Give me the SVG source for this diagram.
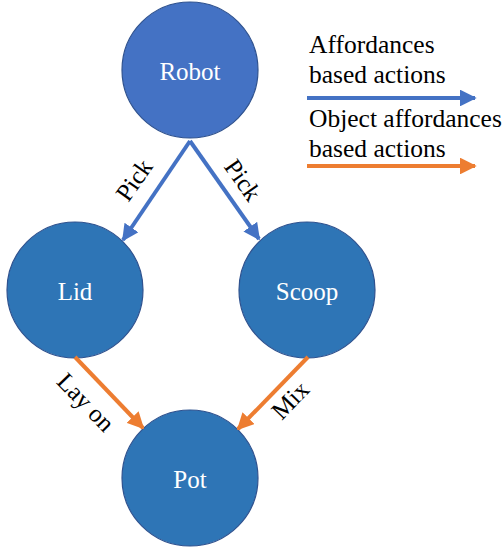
<svg xmlns="http://www.w3.org/2000/svg" width="504" height="550" viewBox="0 0 504 550">
  <style>
    .node circle { stroke: #2F528F; stroke-width: 1.2; }
    .robot circle { fill: #4472C4; }
    .obj circle { fill: #2E75B6; }
    .node text { font-family: "Liberation Serif", "Times New Roman", serif; font-size: 25px; fill: #FFFFFF; text-anchor: middle; dominant-baseline: central; }
    .lbl { font-family: "Liberation Serif", "Times New Roman", serif; font-size: 25px; fill: #000000; text-anchor: middle; dominant-baseline: central; }
    .legend { font-family: "Liberation Serif", "Times New Roman", serif; font-size: 25.5px; fill: #000000; }
    .blue { stroke: #4472C4; stroke-width: 4; fill: none; }
    .orange { stroke: #ED7D31; stroke-width: 4; fill: none; }
  </style>
  <defs>
    <marker id="headBlue" viewBox="0 0 10 10" refX="9" refY="5" markerWidth="4.2" markerHeight="4.2" orient="auto" markerUnits="strokeWidth">
      <path d="M0,0 L10,5 L0,10 z" fill="#4472C4"/>
    </marker>
    <marker id="headOrange" viewBox="0 0 10 10" refX="9" refY="5" markerWidth="4.2" markerHeight="4.2" orient="auto" markerUnits="strokeWidth">
      <path d="M0,0 L10,5 L0,10 z" fill="#ED7D31"/>
    </marker>
  </defs>

  <!-- nodes -->
  <g id="robot" class="node robot">
    <circle cx="190" cy="70" r="68"/>
    <text x="190" y="71">Robot</text>
  </g>
  <g id="lid" class="node obj">
    <circle cx="75" cy="290" r="68"/>
    <text x="75" y="291">Lid</text>
  </g>
  <g id="scoop" class="node obj">
    <circle cx="307" cy="290" r="68"/>
    <text x="307" y="291">Scoop</text>
  </g>
  <g id="pot" class="node obj">
    <circle cx="190" cy="478" r="68"/>
    <text x="190" y="479">Pot</text>
  </g>

  <!-- connectors -->
  <g id="connectors">
    <line class="blue" x1="190" y1="141" x2="123" y2="240" marker-end="url(#headBlue)"/>
    <line class="blue" x1="190" y1="141" x2="259" y2="239" marker-end="url(#headBlue)"/>
    <line class="orange" x1="75" y1="357" x2="143" y2="428" marker-end="url(#headOrange)"/>
    <line class="orange" x1="308" y1="357" x2="238" y2="429" marker-end="url(#headOrange)"/>
    <text class="lbl" transform="translate(134,180) rotate(-55)">Pick</text>
    <text class="lbl" transform="translate(243,180) rotate(55)">Pick</text>
    <text class="lbl" transform="translate(86,402) rotate(46)">Lay on</text>
    <text class="lbl" transform="translate(290,400) rotate(-46)">Mix</text>
  </g>

  <!-- legend -->
  <g id="legend">
    <text class="legend" x="309" y="53">Affordances</text>
    <text class="legend" x="309" y="83">based actions</text>
    <line class="blue" x1="307" y1="98" x2="475" y2="98" marker-end="url(#headBlue)"/>
    <text class="legend" x="309" y="127">Object affordances</text>
    <text class="legend" x="309" y="157">based actions</text>
    <line class="orange" x1="307" y1="166" x2="475" y2="166" marker-end="url(#headOrange)"/>
  </g>
</svg>
